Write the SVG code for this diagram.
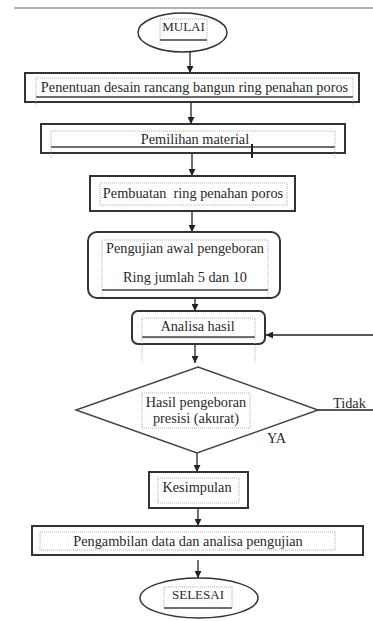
<svg xmlns="http://www.w3.org/2000/svg" width="373" height="621" viewBox="0 0 373 621">
<defs>
<marker id="ah" viewBox="0 0 8 8" refX="8" refY="4" markerWidth="7" markerHeight="7" markerUnits="userSpaceOnUse" orient="auto">
<path d="M0,0 L8,4 L0,8 Z" fill="#222"/>
</marker>
</defs>
<style>
.box{fill:#fff;stroke:#333;stroke-width:2}
.in{fill:none;stroke:#999;stroke-width:0.8;stroke-dasharray:1,1}
.br{fill:none;stroke:#444;stroke-width:1.3}
.tk{fill:none;stroke:#aaa;stroke-width:0.8;stroke-dasharray:1,1}
.t{font-family:"Liberation Serif","Times New Roman",serif;font-size:14.3px;fill:#2a2a2a;text-anchor:middle}
.c{fill:none;stroke:#222;stroke-width:1.3}
</style>
<rect width="373" height="621" fill="#fff"/>
<line x1="14" y1="8" x2="373" y2="8" stroke="#999" stroke-width="1.5"/>

<g id="connectors">
<line class="c" x1="190" y1="52" x2="190" y2="73" marker-end="url(#ah)"/>
<line class="c" x1="191" y1="102" x2="191" y2="124" marker-end="url(#ah)"/>
<line class="c" x1="192" y1="153" x2="192" y2="176" marker-end="url(#ah)"/>
<line class="c" x1="192" y1="211" x2="192" y2="232" marker-end="url(#ah)"/>
<line class="c" x1="195" y1="298" x2="195" y2="311" marker-end="url(#ah)"/>
<line class="c" x1="195" y1="344" x2="195" y2="363" marker-end="url(#ah)"/>
<line class="c" x1="373" y1="335" x2="266" y2="335" marker-end="url(#ah)"/>
<line class="c" x1="318" y1="410" x2="373" y2="410"/>
<line class="c" x1="197" y1="453" x2="197" y2="472" marker-end="url(#ah)"/>
<line class="c" x1="198" y1="508" x2="198" y2="526" marker-end="url(#ah)"/>
<line class="c" x1="198" y1="560" x2="198" y2="578" marker-end="url(#ah)"/>
<text class="t" x="333" y="408" style="text-anchor:start">Tidak</text>
<text class="t" x="267" y="443" style="text-anchor:start">YA</text>
</g>

<g id="mulai">
<ellipse class="box" cx="182.5" cy="32.5" rx="44.5" ry="19.5" style="stroke-width:1.5"/>
<rect class="in" x="160" y="19" width="47" height="21"/>
<text class="t" x="183.5" y="31" style="font-size:13px">MULAI</text>
<line class="br" x1="160" y1="40" x2="207" y2="40"/>
<line class="tk" x1="160" y1="40" x2="160" y2="46"/>
<line class="tk" x1="207" y1="40" x2="207" y2="46"/>
</g>

<g id="penentuan">
<rect class="box" x="25" y="73" width="334" height="29"/>
<rect class="in" x="36" y="78" width="317" height="19"/>
<text class="t" x="194.5" y="92">Penentuan desain rancang bangun ring penahan poros</text>
<line class="br" x1="36" y1="97" x2="353" y2="97"/>
<line class="tk" x1="36" y1="97" x2="36" y2="107"/>
<line class="tk" x1="353" y1="97" x2="353" y2="107"/>
</g>

<g id="pemilihan">
<rect class="box" x="41" y="124" width="304" height="29"/>
<rect class="in" x="51" y="131" width="284" height="16"/>
<text class="t" x="195" y="144">Pemilihan material</text>
<line class="br" x1="51" y1="147" x2="335" y2="147"/>
<line class="tk" x1="51" y1="147" x2="51" y2="158"/>
<line class="tk" x1="335" y1="147" x2="335" y2="158"/>
<line x1="252" y1="144" x2="252" y2="158" stroke="#222" stroke-width="2"/>
</g>

<g id="pembuatan">
<rect class="box" x="90" y="176" width="205" height="35"/>
<rect class="in" x="100" y="183" width="187" height="22"/>
<text class="t" x="193" y="198">Pembuatan&#160; ring penahan poros</text>
</g>

<g id="pengujian">
<rect class="box" x="88" y="232" width="192" height="66" rx="9"/>
<rect class="in" x="102" y="240" width="166" height="50"/>
<text class="t" x="185" y="253">Pengujian awal pengeboran</text>
<text class="t" x="185" y="282">Ring jumlah 5 dan 10</text>
<line class="br" x1="102" y1="290" x2="268" y2="290"/>
<line class="tk" x1="102" y1="290" x2="102" y2="297"/>
<line class="tk" x1="268" y1="290" x2="268" y2="297"/>
</g>

<g id="analisa">
<rect class="box" x="132" y="311" width="133" height="33" rx="6"/>
<rect class="in" x="142" y="318" width="113" height="20"/>
<text class="t" x="197.5" y="331">Analisa hasil</text>
<line class="br" x1="142" y1="337" x2="255" y2="337"/>
<line class="tk" x1="142" y1="337" x2="142" y2="362"/>
<line class="tk" x1="255" y1="337" x2="255" y2="362"/>
</g>

<g id="keputusan">
<polygon points="198,367 318,410 197,453 76,410" fill="#fff" stroke="#444" stroke-width="1.5"/>
<rect class="in" x="142" y="393" width="108" height="35"/>
<text class="t" x="196" y="407">Hasil pengeboran</text>
<text class="t" x="196" y="423">presisi (akurat)</text>
</g>

<g id="kesimpulan">
<rect class="box" x="149" y="472" width="99" height="36"/>
<rect class="in" x="158" y="478" width="81" height="25"/>
<text class="t" x="197" y="492">Kesimpulan</text>
</g>

<g id="pengambilan">
<rect class="box" x="32" y="526" width="331" height="29"/>
<rect class="in" x="40" y="532" width="295" height="18"/>
<text class="t" x="188" y="546">Pengambilan data dan analisa pengujian</text>
</g>

<g id="selesai">
<ellipse class="box" cx="199" cy="598" rx="59" ry="20" style="stroke-width:1.5"/>
<rect class="in" x="164" y="587" width="68" height="21"/>
<text class="t" x="198" y="599" style="font-size:13px">SELESAI</text>
<line class="br" x1="164" y1="608" x2="232" y2="608"/>
</g>
</svg>
